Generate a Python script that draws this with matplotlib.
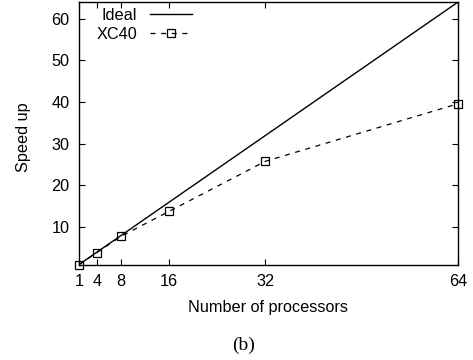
import numpy as np
import matplotlib.pyplot as plt

plt.rcParams['font.family'] = ['Liberation Sans', 'DejaVu Sans']

# data
procs = [1, 4, 8, 16, 32, 64]
ideal_x = [1, 64]
ideal = [1, 64]
xc40 = [1.0, 3.9, 7.8, 13.8, 25.8, 39.6]
yticks = [10, 20, 30, 40, 50, 60]

fig = plt.figure(figsize=(4.73, 3.6), dpi=100)
ax = fig.add_axes([0.167, 0.265, 0.801, 0.729])

ax.plot(ideal_x, ideal, color='black', lw=1.0, label='Ideal')
ax.plot(procs, xc40, color='black', lw=0.9, ls=(0, (4, 4.5)), marker='s',
        ms=6, mfc='none', mew=0.9, label='XC40', clip_on=False)

ax.set_xlim(1, 64)
ax.set_ylim(1, 64)
ax.set_xticks(procs)
ax.set_yticks(yticks)
ax.tick_params(direction='in', top=True, right=True, labelsize=11.7, length=4, pad=7)
for s in ax.spines.values():
    s.set_linewidth(1.0)

ax.set_xlabel('Number of processors', fontsize=11.7, va='center')
ax.xaxis.set_label_coords(0.5, -0.165)
ax.set_ylabel('Speed up', fontsize=11.7, va='center')
ax.yaxis.set_label_coords(-0.147, 0.485)

ax.legend(loc='upper left', frameon=False, markerfirst=False, fontsize=11.7,
          handlelength=2.6, borderaxespad=0.0, borderpad=0.2, labelspacing=0.25,
          bbox_to_anchor=(0.037, 0.99))

fig.text(0.514, 0.042, '(b)', family='Liberation Serif', fontsize=14,
         ha='center', va='center')

fig.savefig('out.png', dpi=100)
